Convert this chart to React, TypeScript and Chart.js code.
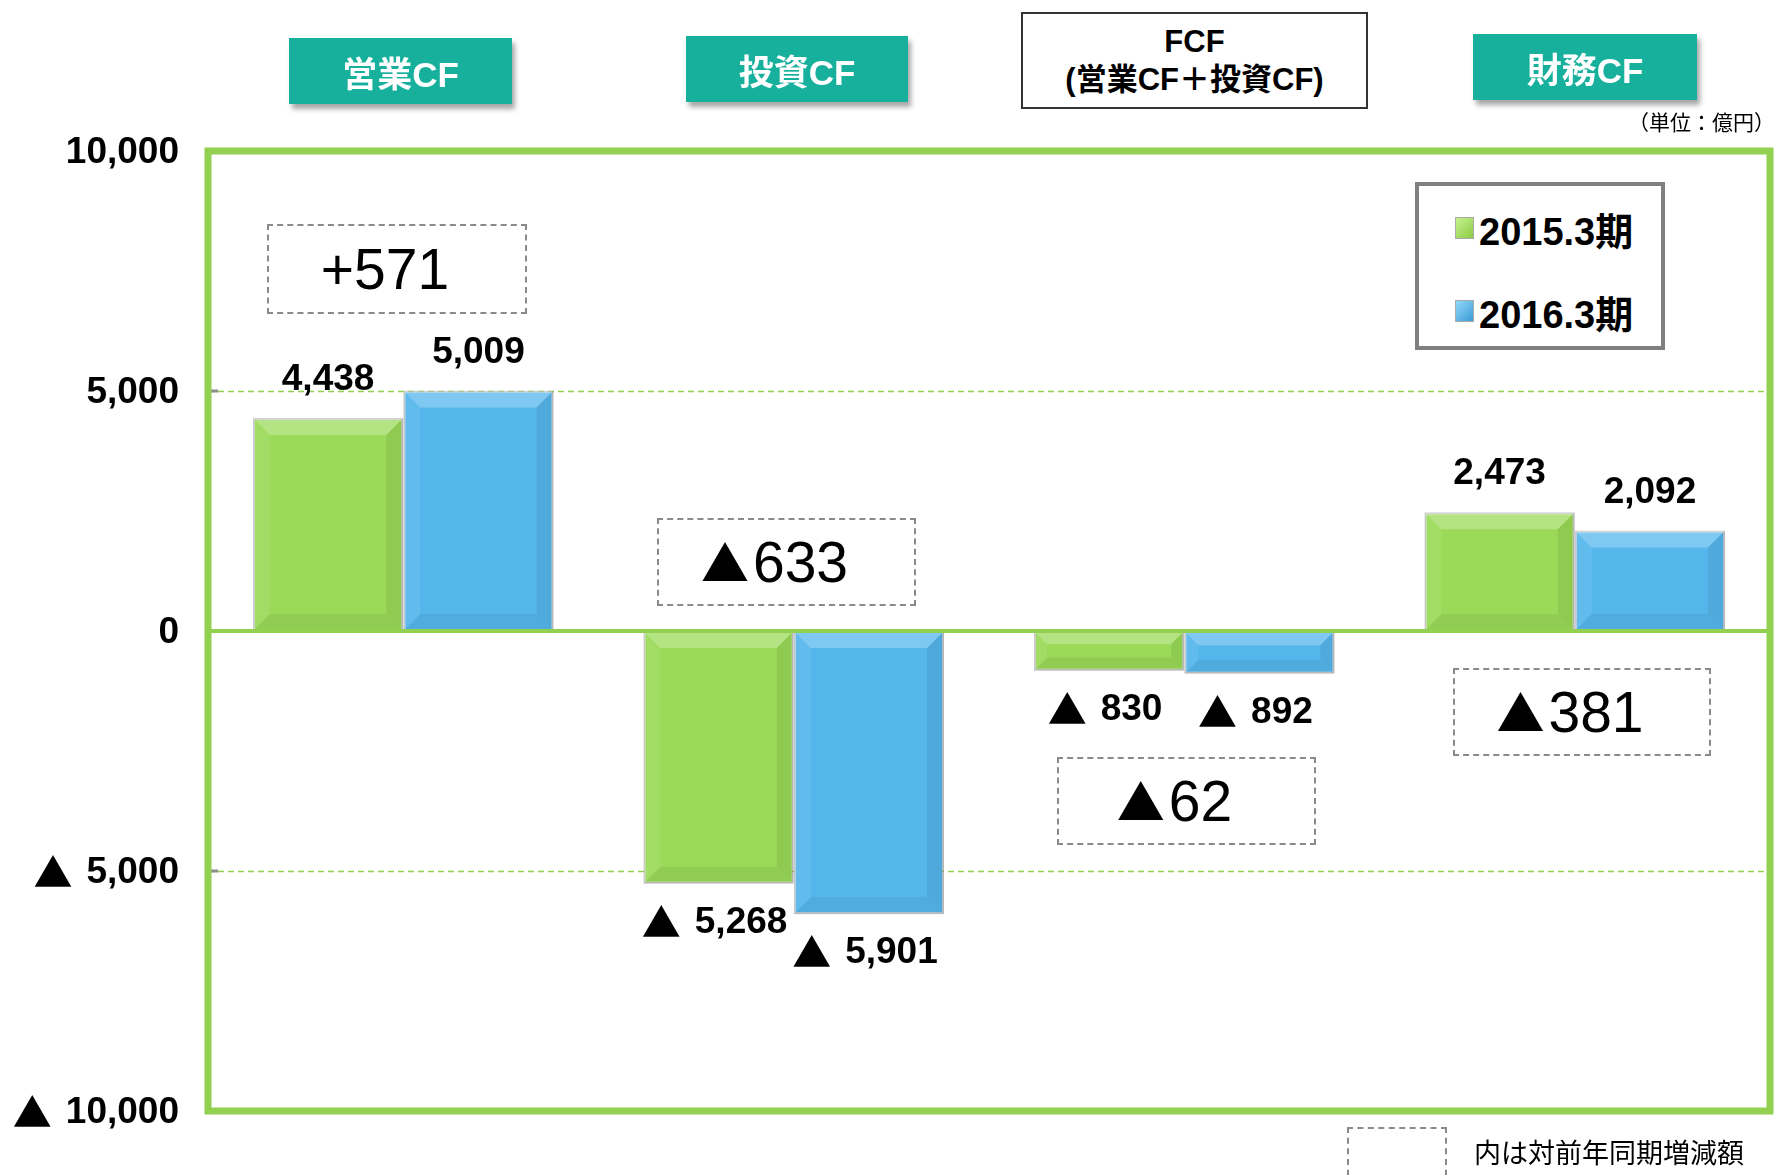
import React, { useEffect, useRef } from "react";
import { Chart, registerables } from "chart.js";
Chart.register(...registerables);

const categories = ["営業CF", "投資CF", "FCF(営業CF＋投資CF)", "財務CF"];
const seriesNames = ["2015.3期", "2016.3期"];
const series2015 = [4438, -5268, -830, 2473];
const series2016 = [5009, -5901, -892, 2092];
const diffSigns = ["+", "▲", "▲", "▲"];
const diffValues = ["571", "633", "62", "381"];
const yMin = -10000;
const yMax = 10000;
const yStep = 5000;

const GREEN = "#9ADA58";
const BLUE = "#55B6EC";
const LINE_GREEN = "#92D050";
const TEAL = "#17B09C";
const LAT = '"Liberation Sans", Arial, "Noto Sans CJK JP", sans-serif';
const CJK = '"Noto Sans CJK JP", "Liberation Sans", sans-serif';
const NUM_FONT = `bold 37px ${LAT}`;
const TRI_FONT = `bold 39px ${CJK}`;

const drawValue = (ctx: any, v: number, x: number, y: number, align: "center" | "right") => {
  const num = Math.abs(v).toLocaleString("en-US");
  ctx.textBaseline = "middle";
  ctx.textAlign = "left";
  ctx.fillStyle = "#000";
  ctx.font = NUM_FONT;
  const nw = ctx.measureText(num).width;
  let tw = 0;
  const gap = 14;
  if (v < 0) {
    ctx.font = TRI_FONT;
    tw = ctx.measureText("▲").width;
  }
  const total = v < 0 ? tw + gap + nw : nw;
  const start = align === "center" ? x - total / 2 : x - total;
  if (v < 0) {
    ctx.font = TRI_FONT;
    ctx.fillText("▲", start, y - 1);
    ctx.font = NUM_FONT;
    ctx.fillText(num, start + tw + gap, y);
  } else {
    ctx.font = NUM_FONT;
    ctx.fillText(num, start, y);
  }
};

const decorPlugin = {
  id: "decor",
  beforeDatasetsDraw(chart: any) {
    const { ctx, chartArea } = chart;
    const ys = chart.scales.y;
    ctx.save();
    ctx.strokeStyle = LINE_GREEN;
    ctx.lineWidth = 1.6;
    ctx.setLineDash([6, 4]);
    [yStep, -yStep].forEach((v) => {
      const py = Math.round(ys.getPixelForValue(v)) + 0.5;
      ctx.beginPath();
      ctx.moveTo(chartArea.left, py);
      ctx.lineTo(chartArea.right, py);
      ctx.stroke();
    });
    ctx.restore();
  },
  afterDatasetsDraw(chart: any) {
    const { ctx, chartArea } = chart;
    const ys = chart.scales.y;
    chart.data.datasets.forEach((ds: any, di: number) => {
      const meta = chart.getDatasetMeta(di);
      meta.data.forEach((bar: any) => {
        const { x, y, base, width } = bar.getProps(["x", "y", "base", "width"], true);
        const l = x - width / 2;
        const r = x + width / 2;
        const t = Math.min(y, base);
        const b = Math.max(y, base);
        const h = b - t;
        const bv = Math.min(17, h / 3);
        ctx.save();
        const quad = (pts: number[][], color: string) => {
          ctx.beginPath();
          ctx.moveTo(pts[0][0], pts[0][1]);
          for (let k = 1; k < pts.length; k++) ctx.lineTo(pts[k][0], pts[k][1]);
          ctx.closePath();
          ctx.fillStyle = color;
          ctx.fill();
        };
        quad([[l, t], [r, t], [r - bv, t + bv], [l + bv, t + bv]], "rgba(255,255,255,0.25)");
        quad([[l, b], [r, b], [r - bv, b - bv], [l + bv, b - bv]], "rgba(0,0,0,0.06)");
        quad([[l, t], [l + bv, t + bv], [l + bv, b - bv], [l, b]], "rgba(255,255,255,0.08)");
        quad([[r, t], [r - bv, t + bv], [r - bv, b - bv], [r, b]], "rgba(0,0,0,0.07)");
        ctx.restore();
      });
    });
    ctx.save();
    const z = ys.getPixelForValue(0);
    ctx.strokeStyle = LINE_GREEN;
    ctx.lineWidth = 4;
    ctx.beginPath();
    ctx.moveTo(chartArea.left, z);
    ctx.lineTo(chartArea.right, z);
    ctx.stroke();
    ctx.strokeStyle = "#8C8C8C";
    ctx.lineWidth = 3;
    [yMax, yStep, -yStep, yMin].forEach((v) => {
      const py = ys.getPixelForValue(v);
      ctx.beginPath();
      ctx.moveTo(chartArea.left, py);
      ctx.lineTo(chartArea.left + 10, py);
      ctx.stroke();
    });
    ctx.strokeStyle = LINE_GREEN;
    ctx.lineWidth = 7;
    ctx.strokeRect(
      chartArea.left,
      ys.getPixelForValue(yMax),
      chartArea.right - chartArea.left,
      ys.getPixelForValue(yMin) - ys.getPixelForValue(yMax)
    );
    ctx.restore();
    ctx.save();
    ys.ticks.forEach((tk: any) => {
      const py = ys.getPixelForValue(tk.value);
      drawValue(ctx, tk.value, chartArea.left - 29, py + 2, "right");
    });
    ctx.restore();
    ctx.save();
    chart.data.datasets.forEach((ds: any, di: number) => {
      const meta = chart.getDatasetMeta(di);
      meta.data.forEach((bar: any, i: number) => {
        const v = ds.data[i];
        const { x, y } = bar.getProps(["x", "y"], true);
        const py = v >= 0 ? y - 38 : y + 39;
        drawValue(ctx, v, v >= 0 ? x : x - 4, py, "center");
      });
    });
    ctx.restore();
  },
};

const headerBox = (left: number, top: number, w: number, h: number): React.CSSProperties => ({
  position: "absolute",
  left,
  top,
  width: w,
  height: h,
  background: TEAL,
  color: "#fff",
  fontFamily: LAT,
  fontWeight: 700,
  fontSize: 35,
  display: "flex",
  alignItems: "center",
  justifyContent: "center",
  boxShadow: "3px 5px 5px rgba(0,0,0,0.35)",
});

const dashBox = (left: number, top: number, w: number, h: number): React.CSSProperties => ({
  position: "absolute",
  left,
  top,
  width: w,
  height: h,
  boxSizing: "border-box",
  border: "2px dashed #8A8A8A",
  fontFamily: LAT,
  fontSize: 57,
  color: "#000",
  display: "flex",
  alignItems: "center",
  justifyContent: "center",
  paddingRight: 24,
});

const triSpan: React.CSSProperties = {
  fontFamily: CJK,
  fontSize: 48,
  marginRight: 4,
  position: "relative",
  top: -2,
};

export default function App() {
  const ref = useRef<HTMLCanvasElement>(null);
  useEffect(() => {
    if (!ref.current) return;
    const chart = new Chart(ref.current, {
      type: "bar",
      data: {
        labels: categories,
        datasets: [
          {
            label: seriesNames[0],
            data: series2015,
            backgroundColor: GREEN,
            borderColor: "rgba(150,150,150,0.55)",
            borderWidth: 2,
            borderSkipped: false,
            barPercentage: 1,
            categoryPercentage: 0.77,
          },
          {
            label: seriesNames[1],
            data: series2016,
            backgroundColor: BLUE,
            borderColor: "rgba(150,150,150,0.55)",
            borderWidth: 2,
            borderSkipped: false,
            barPercentage: 1,
            categoryPercentage: 0.77,
          },
        ],
      },
      options: {
        responsive: false,
        animation: false,
        layout: { padding: { left: 0, right: 7, top: 151, bottom: 64 } },
        plugins: { legend: { display: false }, tooltip: { enabled: false } },
        scales: {
          x: { display: false },
          y: {
            min: yMin,
            max: yMax,
            afterFit: (s: any) => {
              s.width = 208;
            },
            ticks: { stepSize: yStep, display: false },
            grid: { display: false, drawTicks: false },
            border: { display: false },
          },
        },
      },
      plugins: [decorPlugin],
    });
    return () => chart.destroy();
  }, []);

  return (
    <div
      style={{
        position: "fixed",
        left: 0,
        top: 0,
        width: 1777,
        height: 1175,
        background: "#fff",
        overflow: "hidden",
      }}
    >
      <canvas ref={ref} width={1777} height={1175} style={{ position: "absolute", left: 0, top: 0 }} />
      <div style={headerBox(289, 38, 223, 66)}>{categories[0]}</div>
      <div style={headerBox(686, 36, 222, 66)}>{categories[1]}</div>
      <div
        style={{
          position: "absolute",
          left: 1021,
          top: 12,
          width: 347,
          height: 97,
          boxSizing: "border-box",
          border: "2px solid #333",
          background: "#fff",
          fontFamily: LAT,
          fontWeight: 700,
          fontSize: 31,
          lineHeight: "38px",
          color: "#000",
          display: "flex",
          flexDirection: "column",
          alignItems: "center",
          justifyContent: "center",
        }}
      >
        <div>FCF</div>
        <div>(営業CF＋投資CF)</div>
      </div>
      <div style={headerBox(1473, 34, 224, 66)}>{categories[3]}</div>
      <div
        style={{
          position: "absolute",
          right: 2,
          top: 108,
          fontFamily: LAT,
          fontSize: 21,
          color: "#000",
          lineHeight: "30px",
        }}
      >
        （単位：億円）
      </div>
      <div
        style={{
          position: "absolute",
          left: 1415,
          top: 182,
          width: 250,
          height: 168,
          boxSizing: "border-box",
          border: "4px solid #808080",
          background: "#fff",
        }}
      >
        {[0, 1].map((k) => (
          <div
            key={k}
            style={{
              position: "absolute",
              left: 36,
              top: k === 0 ? 20 : 103,
              display: "flex",
              alignItems: "center",
              height: 44,
            }}
          >
            <div
              style={{
                width: 17,
                height: 20,
                background:
                  k === 0
                    ? "linear-gradient(135deg,#C6F28F,#8CCB45)"
                    : "linear-gradient(135deg,#8FD8FA,#3E9BD6)",
                border: "1px solid #aaa",
                marginRight: 5,
              }}
            />
            <span style={{ fontFamily: LAT, fontWeight: 700, fontSize: 38, color: "#000" }}>
              {seriesNames[k]}
            </span>
          </div>
        ))}
      </div>
      {[
        [267, 224, 260, 90],
        [657, 518, 259, 88],
        [1057, 757, 259, 88],
        [1453, 668, 258, 88],
      ].map((b, i) => (
        <div key={i} style={dashBox(b[0], b[1], b[2], b[3])}>
          {diffSigns[i] === "▲" ? <span style={triSpan}>▲</span> : <span>{diffSigns[i]}</span>}
          <span>{diffValues[i]}</span>
        </div>
      ))}
      <div
        style={{
          position: "absolute",
          left: 1347,
          top: 1127,
          width: 100,
          height: 70,
          boxSizing: "border-box",
          border: "2px dashed #8A8A8A",
        }}
      />
      <div
        style={{
          position: "absolute",
          left: 1474,
          top: 1135,
          fontFamily: LAT,
          fontSize: 27,
          lineHeight: "38px",
          color: "#000",
        }}
      >
        内は対前年同期増減額
      </div>
    </div>
  );
}
